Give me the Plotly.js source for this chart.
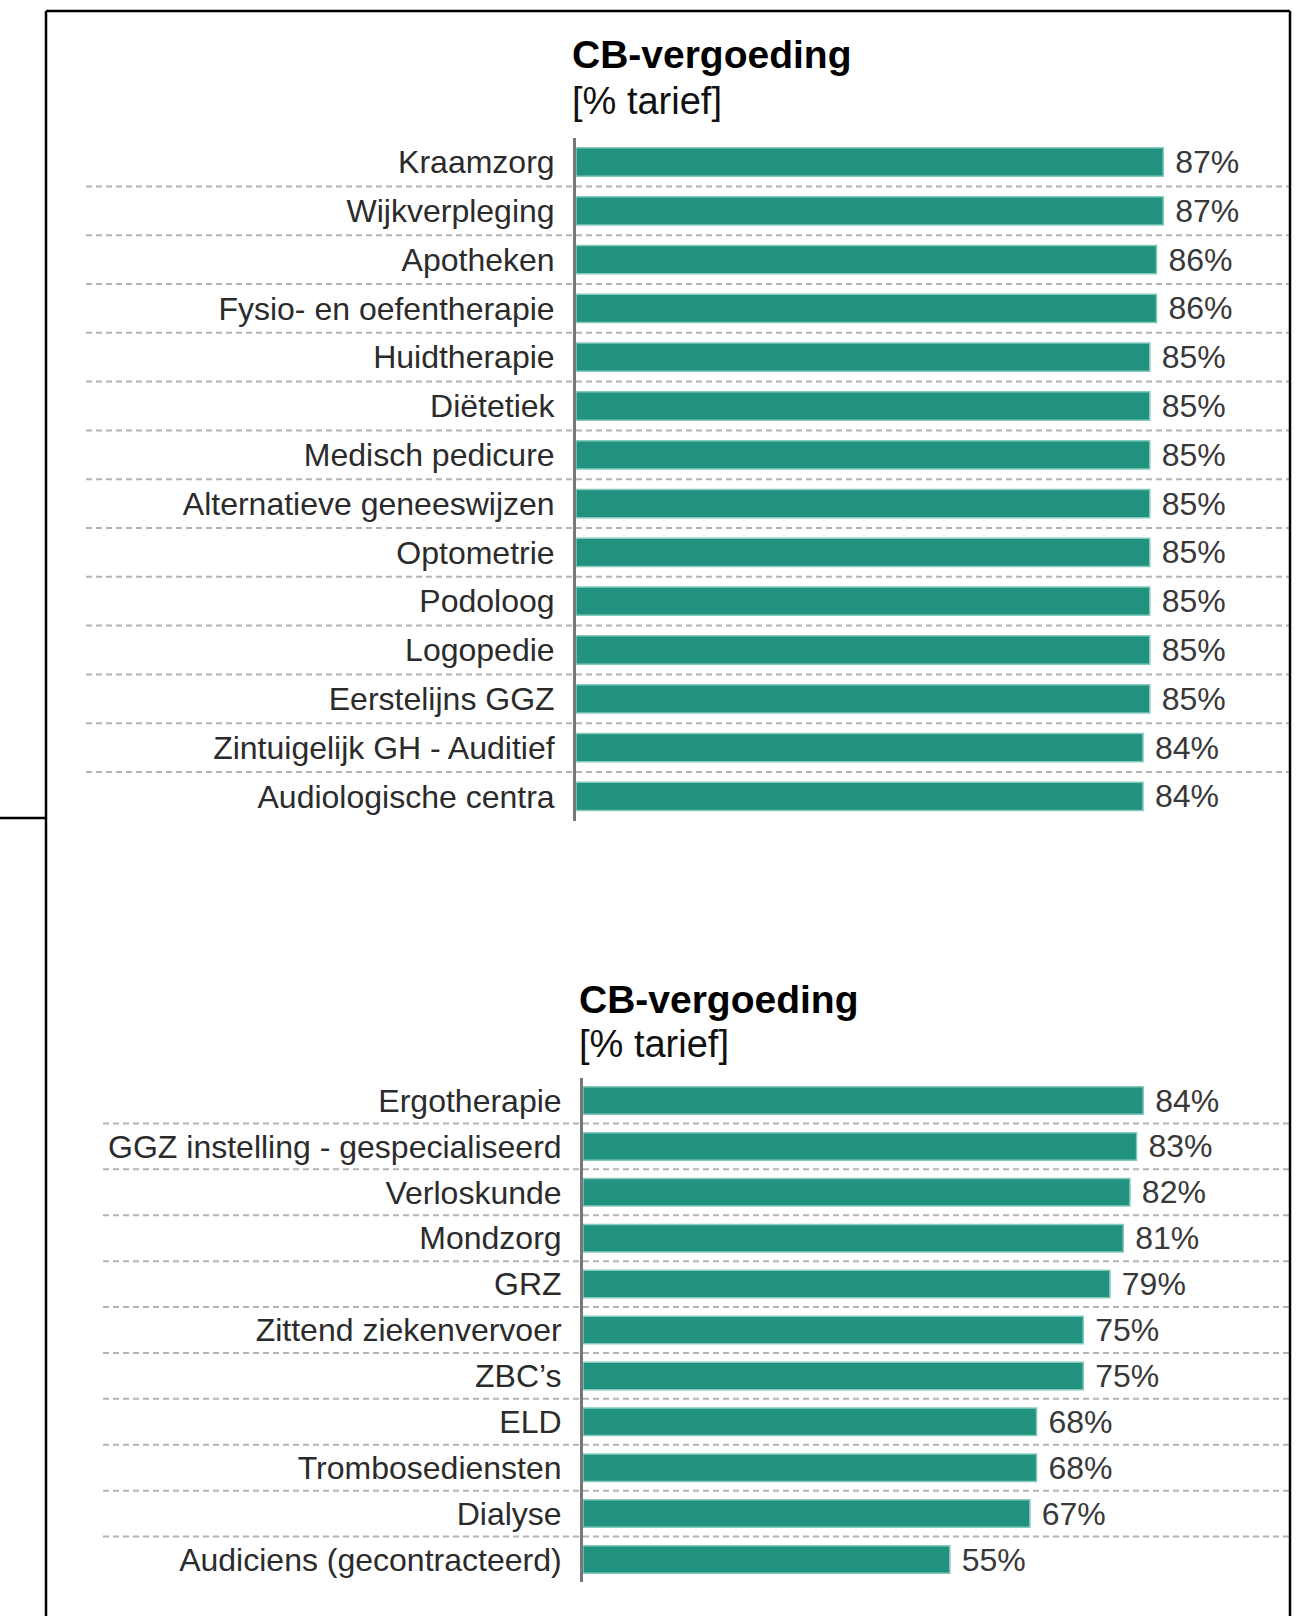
<!DOCTYPE html>
<html>
<head>
<meta charset="utf-8">
<script src="https://cdn.plot.ly/plotly-3.0.1.min.js"></script>
<style>
  html, body { margin: 0; padding: 0; background: #ffffff; }
  #chart { width: 1301px; height: 1616px; }
</style>
</head>
<body>
<div id="chart"></div>
<script>
// ---- Data ----
const chartTitle = 'CB-vergoeding';
const chartSubtitle = '[% tarief]';

const topCategories = [
  'Kraamzorg',
  'Wijkverpleging',
  'Apotheken',
  'Fysio- en oefentherapie',
  'Huidtherapie',
  'Diëtetiek',
  'Medisch pedicure',
  'Alternatieve geneeswijzen',
  'Optometrie',
  'Podoloog',
  'Logopedie',
  'Eerstelijns GGZ',
  'Zintuigelijk GH - Auditief',
  'Audiologische centra'
];
const topValues = [87, 87, 86, 86, 85, 85, 85, 85, 85, 85, 85, 85, 84, 84];

const bottomCategories = [
  'Ergotherapie',
  'GGZ instelling - gespecialiseerd',
  'Verloskunde',
  'Mondzorg',
  'GRZ',
  'Zittend ziekenvervoer',
  'ZBC’s',
  'ELD',
  'Trombosediensten',
  'Dialyse',
  'Audiciens (gecontracteerd)'
];
const bottomValues = [84, 83, 82, 81, 79, 75, 75, 68, 68, 67, 55];

// ---- Styling ----
const W = 1301, H = 1616;
const FONT = '"Liberation Sans", Arial, Helvetica, sans-serif';
const barColor = '#21927f';
const barEdge = '#86cabd';
const px = v => v / W;          // horizontal pixel -> paper
const py = v => 1 - v / H;      // vertical pixel -> paper

function labelText(vals) { return vals.map(v => '\u00a0' + v + '%'); }

function barTrace(cats, vals, xa, ya, w) {
  return {
    type: 'bar', orientation: 'h',
    x: vals, y: cats, xaxis: xa, yaxis: ya,
    width: w,
    marker: { color: barColor, line: { color: barEdge, width: 1.5 } },
    text: labelText(vals),
    textposition: 'outside',
    constraintext: 'none',
    cliponaxis: false,
    textfont: { family: FONT, size: 32, color: '#383838' },
    hoverinfo: 'skip'
  };
}

const data = [
  barTrace(topCategories, topValues, 'x', 'y', 0.58),
  barTrace(bottomCategories, bottomValues, 'x2', 'y2', 0.6)
];

function gridShapes(cats, yref, xStart) {
  const s = [];
  for (let i = 0; i < cats.length - 1; i++) {
    s.push({
      type: 'line', xref: 'paper', yref: yref,
      x0: px(xStart), x1: px(1290), y0: i + 0.5, y1: i + 0.5,
      line: { color: '#b4b4b4', width: 2, dash: '6px,4px' },
      layer: 'below'
    });
  }
  return s;
}

const frameLine = { color: '#000000', width: 2.5 };
const frameShapes = [
  { type: 'line', xref: 'paper', yref: 'paper', x0: px(46), x1: px(1290), y0: py(11), y1: py(11), line: frameLine },
  { type: 'line', xref: 'paper', yref: 'paper', x0: px(46), x1: px(46), y0: py(11), y1: 0, line: frameLine },
  { type: 'line', xref: 'paper', yref: 'paper', x0: px(1290), x1: px(1290), y0: py(11), y1: 0, line: frameLine },
  { type: 'line', xref: 'paper', yref: 'paper', x0: 0, x1: px(46), y0: py(818), y1: py(818), line: frameLine }
];

function titleAnnots(xLeft, yTitle, ySub) {
  return [
    { xref: 'paper', yref: 'paper', x: px(xLeft), y: py(yTitle), xanchor: 'left', yanchor: 'middle',
      text: '<b>' + chartTitle + '</b>', showarrow: false,
      font: { family: FONT, size: 39, color: '#000000' } },
    { xref: 'paper', yref: 'paper', x: px(xLeft), y: py(ySub), xanchor: 'left', yanchor: 'middle',
      text: chartSubtitle, showarrow: false,
      font: { family: FONT, size: 38, color: '#111111' } }
  ];
}

const yCommon = {
  type: 'category',
  showline: true, linecolor: '#777777', linewidth: 3,
  showgrid: false, zeroline: false,
  ticks: '', ticklabelstandoff: 12,
  tickfont: { family: FONT, size: 32, color: '#2b2b2b' },
  fixedrange: true
};
const xCommon = {
  range: [0, 105], showgrid: false, zeroline: false, showline: false,
  showticklabels: false, ticks: '', fixedrange: true
};

const layout = {
  width: W, height: H,
  margin: { l: 0, r: 0, t: 0, b: 0 },
  paper_bgcolor: '#ffffff', plot_bgcolor: 'rgba(0,0,0,0)',
  showlegend: false,
  font: { family: FONT },
  xaxis: Object.assign({}, xCommon, { domain: [px(576), px(1284.75)], anchor: 'y' }),
  yaxis: Object.assign({}, yCommon, {
    domain: [py(820.8), py(137.6)], anchor: 'x',
    categoryorder: 'array', categoryarray: topCategories,
    range: [topCategories.length - 0.5, -0.5]
  }),
  xaxis2: Object.assign({}, xCommon, { domain: [px(583), px(1283.35)], anchor: 'y2' }),
  yaxis2: Object.assign({}, yCommon, {
    domain: [py(1582.45), py(1077.55)], anchor: 'x2',
    categoryorder: 'array', categoryarray: bottomCategories,
    range: [bottomCategories.length - 0.5, -0.5]
  }),
  shapes: [].concat(
    gridShapes(topCategories, 'y', 86),
    gridShapes(bottomCategories, 'y2', 103),
    frameShapes
  ),
  annotations: [].concat(
    titleAnnots(570, 54, 101),
    titleAnnots(577, 999.5, 1044)
  )
};

Plotly.newPlot('chart', data, layout, { staticPlot: true, displayModeBar: false });
</script>
</body>
</html>
